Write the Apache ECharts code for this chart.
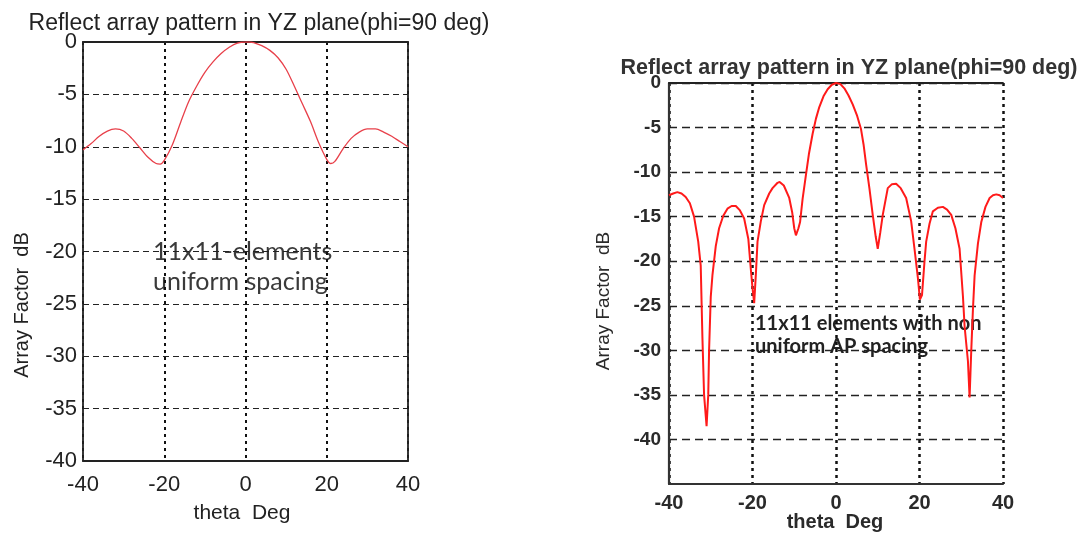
<!DOCTYPE html>
<html>
<head>
<meta charset="utf-8">
<script src="https://cdn.jsdelivr.net/npm/echarts@6/dist/echarts.min.js"></script>
<style>html,body{margin:0;padding:0;background:#fff;}#c{width:1083px;height:533px;}</style>
</head>
<body>
<div id="c"></div>
<script>
// ---- Data ----
const titleText = 'Reflect array pattern in YZ plane(phi=90 deg)';
const xName = 'theta  Deg';
const yName = 'Array Factor  dB';
const xTicks = [-40, -20, 0, 20, 40];
const yTicksLeft = [0, -5, -10, -15, -20, -25, -30, -35, -40];
const yTicksRight = [0, -5, -10, -15, -20, -25, -30, -35, -40];

// Left: 11x11 elements uniform spacing
const thetaUniform = [-40,-38,-36,-34,-32,-30,-28,-26,-24,-22,-21,-20,-18,-16,-14,-12,-10,-8,-6,-4,-2,0,1,2,4,6,8,10,12,14,16,18,20,21,22,24,26,28,30,32,34,36,38,40];
const dbUniform    = [-10.3,-9.7,-9.0,-8.5,-8.3,-8.5,-9.2,-10.1,-11.0,-11.6,-11.65,-11.3,-9.8,-7.7,-5.7,-4.2,-2.9,-1.9,-1.1,-0.5,-0.1,0,0,-0.05,-0.35,-0.8,-1.5,-2.6,-4.2,-5.9,-7.6,-9.6,-11.2,-11.6,-11.4,-10.2,-9.2,-8.6,-8.3,-8.3,-8.6,-9.0,-9.5,-10.0];

// Right: 11x11 elements non uniform AP spacing
const thetaNonUniform = [-40,-39,-38,-37,-36,-35,-34,-33,-32.4,-32.0,-31.6,-31.0,-30.6,-30.4,-30.0,-29.6,-28.8,-28,-27,-26,-25,-24,-23,-22,-21,-20.4,-20,-19.6,-19.2,-18.8,-18,-17.2,-16,-15.2,-14,-13.5,-12.5,-11.2,-10.5,-10,-9.6,-9,-8.6,-8,-7.2,-6.5,-5.6,-4.8,-4,-3,-2,-1,0,1,2,3,4,5,6,6.6,7.2,8,8.8,9.5,10,10.6,11.2,12.4,13.4,14.4,15.5,16.8,18,18.8,19.6,20.1,20.6,21.2,21.6,22.4,23.2,24.4,25.6,26.6,27.6,28.6,29.6,30.4,30.8,31.6,32.0,32.4,32.8,33.2,34,34.8,35.8,36.8,37.6,38.4,39.2,40];
const dbNonUniform    = [-12.6,-12.4,-12.25,-12.4,-12.8,-13.5,-15.0,-17.8,-20.5,-28.5,-35.0,-38.5,-35.0,-30.0,-24.0,-21.6,-18.3,-16.3,-14.9,-14.1,-13.8,-13.8,-14.3,-15.2,-17.5,-20.9,-23.0,-24.7,-21.5,-17.8,-15.5,-13.7,-12.4,-11.8,-11.2,-11.1,-11.5,-12.9,-14.5,-16.3,-17.1,-16.3,-15.6,-13.0,-10.3,-8.0,-5.7,-4.0,-2.7,-1.5,-0.7,-0.2,0,-0.1,-0.6,-1.4,-2.4,-3.6,-5.2,-6.9,-9.1,-11.8,-14.8,-17.2,-18.6,-16.8,-14.8,-11.8,-11.35,-11.3,-11.8,-12.9,-15.5,-18.6,-21.8,-24.3,-23.8,-20.0,-17.8,-15.8,-14.4,-14.0,-13.9,-14.2,-14.8,-16.3,-18.6,-23.9,-27.3,-31.2,-35.3,-30.0,-25.4,-21.6,-18.0,-15.6,-13.9,-12.9,-12.6,-12.5,-12.6,-12.9];

const noteLeft = ['11x11-elements', 'uniform spacing'];
const noteRight = ['11x11 elements with non', 'uniform AP spacing'];

// ---- Chart ----
const zip = (a, b) => a.map((v, i) => [v, b[i]]);
const chart = echarts.init(document.getElementById('c'), null, {renderer: 'canvas'});
const F = 'Liberation Sans, Arial, sans-serif';
const NF = 'Lato, Open Sans, sans-serif';

const hDashL = {show: true, lineStyle: {color: '#222', width: 1.2, type: [6, 4]}};
const vDotL  = {show: true, lineStyle: {color: '#111', width: 2, type: [3, 4]}};
const hDashR = {show: true, lineStyle: {color: '#222', width: 1.3, type: [8, 5]}};
const vDotR  = {show: true, lineStyle: {color: '#111', width: 2.5, type: [3, 4]}};
const axisLineL = {show: true, lineStyle: {color: '#222', width: 1.8}};
const axisLineR = {show: true, lineStyle: {color: '#333', width: 2.2}};
const frameAxis = (idx, pos, min, max, ls) => ({
  type: 'value', gridIndex: idx, position: pos, min, max,
  axisLine: {show: true, onZero: false, lineStyle: ls},
  axisTick: {show: false}, axisLabel: {show: false}, splitLine: {show: false}
});

chart.setOption({
  animation: false,
  backgroundColor: '#fff',
  title: [
    {text: titleText, left: 254, top: 7, textAlign: 'center',
     textStyle: {fontFamily: F, fontSize: 23, fontWeight: 'normal', color: '#222'}},
    {text: titleText, left: 844, top: 52, textAlign: 'center',
     textStyle: {fontFamily: F, fontSize: 21.5, fontWeight: 'bold', color: '#333'}}
  ],
  grid: [
    {left: 83, right: 675, top: 42, bottom: 72},
    {left: 669, right: 80, top: 83, bottom: 49}
  ],
  xAxis: [
    {type: 'value', gridIndex: 0, min: xTicks[0], max: xTicks[xTicks.length - 1], interval: 20,
     axisLine: Object.assign({onZero: false}, axisLineL), axisTick: {show: false},
     axisLabel: {fontFamily: F, fontSize: 22, color: '#222', margin: 13},
     splitLine: vDotL},
    frameAxis(0, 'top', -40, 40, {color: '#222', width: 1.8}),
    {type: 'value', gridIndex: 1, min: xTicks[0], max: xTicks[xTicks.length - 1], interval: 20,
     axisLine: Object.assign({onZero: false}, axisLineR), axisTick: {show: false},
     axisLabel: {fontFamily: F, fontSize: 20, fontWeight: 'bold', color: '#2a2a2a', margin: 9},
     splitLine: vDotR},
    frameAxis(1, 'top', -40, 40, {color: '#222', width: 1.8})
  ],
  yAxis: [
    {type: 'value', gridIndex: 0, min: -40, max: 0, interval: 5,
     axisLine: Object.assign({onZero: false}, axisLineL), axisTick: {show: false},
     axisLabel: {fontFamily: F, fontSize: 22, color: '#222', margin: 6,
       formatter: v => (yTicksLeft.indexOf(v) >= 0 ? String(v) : '')},
     splitLine: hDashL},
    frameAxis(0, 'right', -40, 0, {color: '#222', width: 1.8}),
    {type: 'value', gridIndex: 1, min: -45, max: 0, interval: 5,
     axisLine: Object.assign({onZero: false}, axisLineR), axisTick: {show: false},
     axisLabel: {fontFamily: F, fontSize: 19, fontWeight: 'bold', color: '#2a2a2a', margin: 8,
       formatter: v => (yTicksRight.indexOf(v) >= 0 ? String(v) : '')},
     splitLine: Object.assign({showMinLine: false}, hDashR)}
  ],
  series: [
    {type: 'line', xAxisIndex: 0, yAxisIndex: 0, data: zip(thetaUniform, dbUniform),
     showSymbol: false, smooth: 0.3, lineStyle: {color: '#e8404a', width: 1.3}, z: 5},
    {type: 'line', xAxisIndex: 2, yAxisIndex: 2, data: zip(thetaNonUniform, dbNonUniform),
     showSymbol: false, smooth: false, lineStyle: {color: '#ff1a1a', width: 2}, z: 5}
  ],
  graphic: [
    {type: 'text', x: 22, y: 305, rotation: Math.PI / 2,
     style: {text: yName, fontFamily: F, fontSize: 20, fill: '#222', align: 'center', verticalAlign: 'middle'}},
    {type: 'text', x: 242, y: 513,
     style: {text: xName, fontFamily: F, fontSize: 21, fill: '#222', align: 'center', verticalAlign: 'middle'}},
    {type: 'text', x: 604, y: 301, rotation: Math.PI / 2,
     style: {text: yName, fontFamily: F, fontSize: 19, fill: '#2a2a2a', align: 'center', verticalAlign: 'middle'}},
    {type: 'text', x: 835, y: 522,
     style: {text: xName, fontFamily: F, fontSize: 20, fontWeight: 'bold', fill: '#2a2a2a', align: 'center', verticalAlign: 'middle'}},
    {type: 'text', x: 153, y: 252,
     style: {text: noteLeft[0], fontFamily: NF, fontSize: 25, fill: '#3a3a3a', align: 'left', verticalAlign: 'middle'}},
    {type: 'text', x: 153, y: 282,
     style: {text: noteLeft[1], fontFamily: NF, fontSize: 25, fill: '#3a3a3a', align: 'left', verticalAlign: 'middle'}},
    {type: 'text', x: 755, y: 324,
     style: {text: noteRight[0], fontFamily: NF, fontSize: 20, fontWeight: 'bold', fill: '#222', align: 'left', verticalAlign: 'middle'}},
    {type: 'text', x: 755, y: 347,
     style: {text: noteRight[1], fontFamily: NF, fontSize: 20, fontWeight: 'bold', fill: '#222', align: 'left', verticalAlign: 'middle'}}
  ]
});
</script>
</body>
</html>
